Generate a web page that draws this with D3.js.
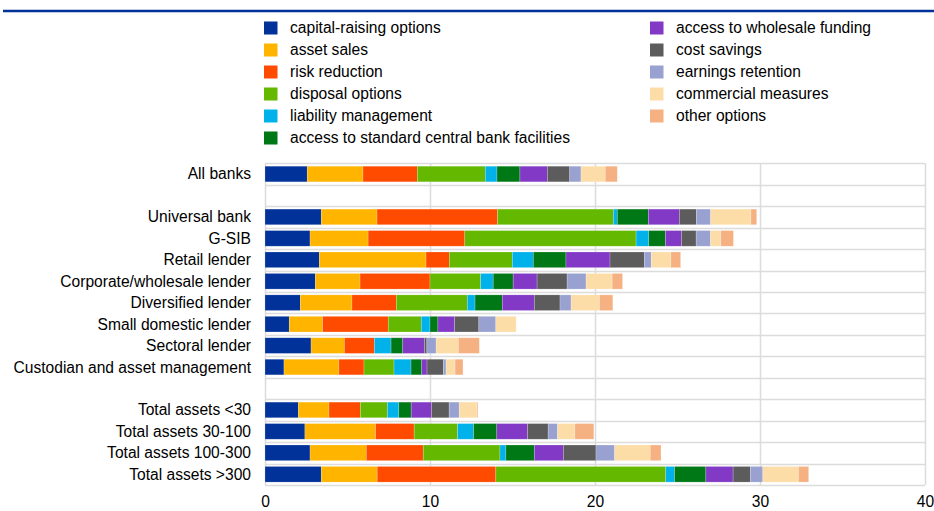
<!DOCTYPE html>
<html>
<head>
<meta charset="utf-8">
<script src="https://cdn.jsdelivr.net/npm/d3@7"></script>
<style>
  body { margin: 0; background: #fff; }
  svg { display: block; font-family: "Liberation Sans", Arial, sans-serif; }
</style>
</head>
<body>
<div id="chart"></div>
<script>
const width = 934,
  height = 511,
  margin = { left: 265, right: 9, top: 163.3, bottom: 26 };

// rows, top to bottom ("" = empty spacer row)
const categories = [
  "All banks", "",
  "Universal bank", "G-SIB", "Retail lender", "Corporate/wholesale lender",
  "Diversified lender", "Small domestic lender", "Sectoral lender",
  "Custodian and asset management", " ",
  "Total assets <30", "Total assets 30-100", "Total assets 100-300", "Total assets >300"
];

const seriesNames = [
  "capital-raising options", "asset sales", "risk reduction", "disposal options",
  "liability management", "access to standard central bank facilities",
  "access to wholesale funding", "cost savings", "earnings retention",
  "commercial measures", "other options"
];

const colors = [
  "#003299", "#ffb400", "#ff4b00", "#65b800", "#00b1ea", "#007816",
  "#8139c6", "#5c5c5c", "#98a1d0", "#fddda7", "#f6b183"
];

// one array per series, in category order (null for spacer rows)
const capitalRaising = [2.56, null, 3.41, 2.73, 3.29, 3.05, 2.14, 1.47, 2.79, 1.15, null, 2.02, 2.42, 2.73, 3.41];
const assetSales     = [3.38, null, 3.38, 3.52, 6.47, 2.71, 3.13, 2.02, 2.02, 3.33, null, 1.86, 4.28, 3.41, 3.39];
const riskReduction  = [3.29, null, 7.31, 5.86, 1.41, 4.24, 2.69, 3.98, 1.82, 1.52, null, 1.90, 2.34, 3.45, 7.19];
const disposal       = [4.12, null, 7.01, 10.38, 3.82, 3.07, 4.30, 2.00, 0, 1.82, null, 1.64, 2.63, 4.65, 10.30];
const liability      = [0.71, null, 0.24, 0.77, 1.27, 0.76, 0.47, 0.53, 1.01, 1.03, null, 0.69, 0.97, 0.36, 0.53];
const centralBank    = [1.39, null, 1.88, 1.01, 1.98, 1.21, 1.65, 0.48, 0.71, 0.65, null, 0.75, 1.41, 1.72, 1.90];
const wholesale      = [1.66, null, 1.88, 0.97, 2.67, 1.45, 1.94, 1.01, 1.31, 0.32, null, 1.23, 1.86, 1.76, 1.65];
const costSavings    = [1.36, null, 1.03, 0.89, 2.08, 1.82, 1.56, 1.47, 0.15, 0.99, null, 1.07, 1.25, 1.98, 1.05];
const earnings       = [0.68, null, 0.87, 0.87, 0.42, 1.15, 0.67, 1.03, 0.56, 0.16, null, 0.61, 0.57, 1.13, 0.75];
const commercial     = [1.47, null, 2.44, 0.63, 1.19, 1.58, 1.72, 1.23, 1.35, 0.55, null, 1.07, 1.05, 2.16, 2.16];
const otherOptions   = [0.73, null, 0.35, 0.76, 0.59, 0.63, 0.81, 0, 1.27, 0.48, null, 0.06, 1.15, 0.65, 0.62];

const xTicks = [0, 10, 20, 30, 40];

const seriesValues = [
  capitalRaising, assetSales, riskReduction, disposal, liability, centralBank,
  wholesale, costSavings, earnings, commercial, otherOptions
];

// table for d3.stack
const table = categories.map((c, i) => {
  const row = { category: c };
  seriesNames.forEach((s, j) => (row[s] = seriesValues[j][i] || 0));
  return row;
});

const stacked = d3.stack().keys(seriesNames)(table);

const xScale = d3
  .scaleLinear()
  .domain([0, 40])
  .range([margin.left, width - margin.right]);

const yScale = d3
  .scaleBand()
  .domain(categories)
  .range([margin.top, height - margin.bottom])
  .paddingInner(0.27)
  .paddingOuter(0.135);

const colorScale = d3.scaleOrdinal().domain(seriesNames).range(colors);

const fontSize = 15.6;

const svg = d3
  .select("#chart")
  .append("svg")
  .attr("width", width)
  .attr("height", height);

// top rule
svg
  .append("line")
  .attr("x1", 3)
  .attr("x2", width)
  .attr("y1", 11)
  .attr("y2", 11)
  .attr("stroke", "#003299")
  .attr("stroke-width", 2.5);

// horizontal grid lines at row boundaries
const step = yScale.step();
const rowEdges = d3.range(categories.length + 1).map((i) => margin.top + i * step);
svg
  .append("g")
  .selectAll("line")
  .data(rowEdges)
  .enter()
  .append("line")
  .attr("x1", margin.left)
  .attr("x2", width - margin.right)
  .attr("y1", (d) => Math.round(d) + 0.5)
  .attr("y2", (d) => Math.round(d) + 0.5)
  .attr("stroke", "#dcdcdc")
  .attr("stroke-width", 1.5);

// vertical grid lines
svg
  .append("g")
  .selectAll("line")
  .data(xTicks)
  .enter()
  .append("line")
  .attr("x1", (d) => Math.round(xScale(d)) + 0.5)
  .attr("x2", (d) => Math.round(xScale(d)) + 0.5)
  .attr("y1", margin.top)
  .attr("y2", height - margin.bottom)
  .attr("stroke", "#dcdcdc")
  .attr("stroke-width", 1.5);

// bars
svg
  .append("g")
  .selectAll("g")
  .data(stacked)
  .enter()
  .append("g")
  .attr("fill", (d) => colorScale(d.key))
  .selectAll("rect")
  .data((d) => d.filter((p) => p.data.category.trim() !== ""))
  .enter()
  .append("rect")
  .attr("x", (d) => xScale(d[0]))
  .attr("y", (d) => yScale(d.data.category))
  .attr("width", (d) => Math.max(0, xScale(d[1]) - xScale(d[0])))
  .attr("height", yScale.bandwidth())
  .attr("stroke", "#fff")
  .attr("stroke-opacity", 0.35)
  .attr("stroke-width", 0.6);

// category labels
svg
  .append("g")
  .selectAll("text")
  .data(categories.filter((c) => c.trim() !== ""))
  .enter()
  .append("text")
  .attr("x", margin.left - 14)
  .attr("y", (d) => yScale(d) + yScale.bandwidth() / 2)
  .attr("dy", "0.35em")
  .attr("text-anchor", "end")
  .attr("font-size", fontSize)
  .attr("fill", "#000")
  .text((d) => d);

// x axis labels
svg
  .append("g")
  .attr("transform", `translate(0,${height - margin.bottom})`)
  .call(d3.axisBottom(xScale).tickValues(xTicks).tickSize(0).tickPadding(11))
  .call((g) => g.select(".domain").remove())
  .call((g) =>
    g.selectAll("text")
      .attr("font-size", fontSize)
      .attr("font-family", "Liberation Sans, Arial, sans-serif")
      .attr("fill", "#000")
  );

// legend: two columns
const legendCols = [
  { x: 264, items: seriesNames.slice(0, 6) },
  { x: 650, items: seriesNames.slice(6) }
];

legendCols.forEach((col) => {
  const g = svg.append("g").attr("transform", `translate(${col.x},28)`);
  const item = g
    .selectAll("g")
    .data(col.items)
    .enter()
    .append("g")
    .attr("transform", (d, i) => `translate(0,${i * 22})`);
  item
    .append("rect")
    .attr("y", -6.5)
    .attr("width", 13.5)
    .attr("height", 13)
    .attr("fill", (d) => colorScale(d));
  item
    .append("text")
    .attr("x", 26)
    .attr("dy", "0.35em")
    .attr("font-size", fontSize)
    .attr("fill", "#000")
    .text((d) => d);
});
</script>
</body>
</html>
